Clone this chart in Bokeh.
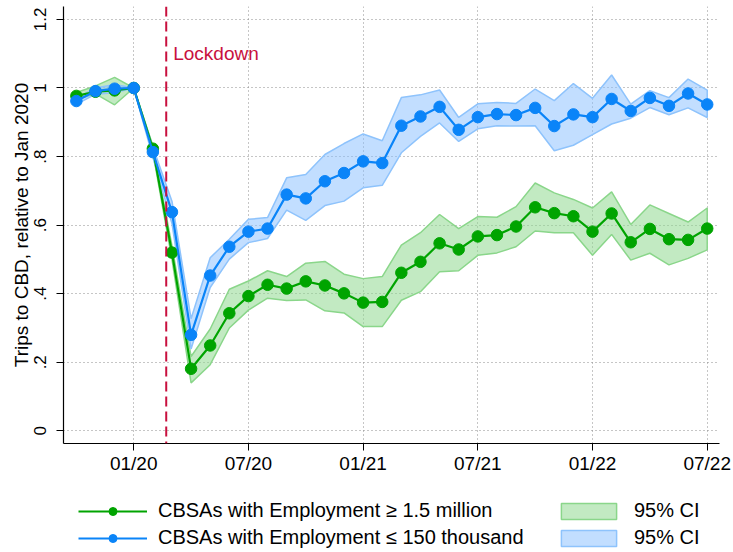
from bokeh.plotting import figure
from bokeh.layouts import column
from bokeh.models import Span, Label, Legend, LegendItem, FixedTicker, Range1d
from bokeh.embed import file_html
from bokeh.resources import INLINE

# ---------------- data ----------------
months = ["2019-10", "2019-11", "2019-12",
          "2020-01", "2020-02", "2020-03", "2020-04", "2020-05", "2020-06",
          "2020-07", "2020-08", "2020-09", "2020-10", "2020-11", "2020-12",
          "2021-01", "2021-02", "2021-03", "2021-04", "2021-05", "2021-06",
          "2021-07", "2021-08", "2021-09", "2021-10", "2021-11", "2021-12",
          "2022-01", "2022-02", "2022-03", "2022-04", "2022-05", "2022-06",
          "2022-07"]

large = [0.977, 0.989, 0.993, 1.000, 0.823, 0.520, 0.181, 0.249, 0.343,
         0.393, 0.426, 0.415, 0.436, 0.424, 0.401, 0.374, 0.376, 0.461,
         0.493, 0.547, 0.529, 0.567, 0.571, 0.596, 0.652, 0.635, 0.626,
         0.581, 0.634, 0.550, 0.589, 0.559, 0.557, 0.590]
large_hi = [0.987, 1.006, 1.031, 1.000, 0.832, 0.540, 0.217, 0.297, 0.413,
            0.437, 0.467, 0.450, 0.489, 0.494, 0.457, 0.444, 0.450, 0.542,
            0.578, 0.631, 0.590, 0.625, 0.623, 0.654, 0.723, 0.694, 0.675,
            0.650, 0.697, 0.602, 0.659, 0.634, 0.609, 0.650]
large_lo = [0.966, 0.983, 0.951, 1.000, 0.812, 0.500, 0.140, 0.193, 0.300,
            0.352, 0.387, 0.380, 0.382, 0.350, 0.344, 0.304, 0.304, 0.381,
            0.406, 0.464, 0.467, 0.512, 0.519, 0.537, 0.583, 0.578, 0.578,
            0.512, 0.573, 0.498, 0.518, 0.484, 0.503, 0.528]

small = [0.962, 0.991, 0.998, 1.000, 0.813, 0.638, 0.280, 0.453, 0.537,
         0.581, 0.590, 0.689, 0.678, 0.728, 0.752, 0.786, 0.781, 0.890,
         0.917, 0.945, 0.878, 0.915, 0.924, 0.921, 0.942, 0.889, 0.923,
         0.915, 0.968, 0.933, 0.971, 0.948, 0.984, 0.952]
small_hi = [0.970, 1.000, 1.010, 1.000, 0.828, 0.670, 0.327, 0.505, 0.559,
            0.617, 0.622, 0.738, 0.748, 0.806, 0.838, 0.866, 0.846, 0.972,
            0.980, 0.994, 0.914, 0.954, 0.958, 0.955, 0.997, 0.963, 1.013,
            0.970, 1.038, 0.953, 0.992, 0.972, 1.026, 0.994]
small_lo = [0.952, 0.982, 0.986, 1.000, 0.798, 0.605, 0.239, 0.418, 0.501,
            0.549, 0.561, 0.644, 0.614, 0.657, 0.670, 0.709, 0.716, 0.811,
            0.859, 0.898, 0.844, 0.881, 0.890, 0.889, 0.890, 0.817, 0.833,
            0.864, 0.895, 0.912, 0.943, 0.922, 0.942, 0.914]

tick_months = ["2020-01", "2020-07", "2021-01", "2021-07", "2022-01", "2022-07"]
tick_labels = ["01/20", "07/20", "01/21", "07/21", "01/22", "07/22"]
y_ticks = [0, 0.2, 0.4, 0.6, 0.8, 1.0, 1.2]
y_tick_labels = ["0", ".2", ".4", ".6", ".8", "1", "1.2"]

lockdown_month = "2020-03"
lockdown_shift = -0.3   # the marker sits a little before the March point

label_large = "CBSAs with Employment \u2265 1.5 million"
label_small = "CBSAs with Employment \u2264 150 thousand"
label_ci = "95% CI"

# ---------------- styles ----------------
FONT = "Liberation Sans"
GREEN = "#00A400"
BLUE = "#0A84F8"
GREEN_BAND = dict(fill_color="#8FD88F", fill_alpha=0.55, line_color="#8AD68A", line_width=1.5)
BLUE_BAND = dict(fill_color="#86BEFF", fill_alpha=0.5, line_color="#8EC3FC", line_width=1.5)

x = list(range(len(months)))
tick_x = [months.index(m) for m in tick_months]
lockdown_x = months.index(lockdown_month) + lockdown_shift
band_x = x + x[::-1]
band_large = large_hi + large_lo[::-1]
band_small = small_hi + small_lo[::-1]

# ---------------- main chart ----------------
p = figure(width=733, height=476, output_backend="svg", toolbar_location=None,
           x_range=Range1d(-0.674, 33.643), y_range=Range1d(-0.0369, 1.2377),
           min_border_left=63, min_border_right=14, min_border_top=6,
           min_border_bottom=31)
p.outline_line_color = None

p.patch(band_x, band_large, **GREEN_BAND)
p.patch(band_x, band_small, **BLUE_BAND)
p.line(x, large, line_color=GREEN, line_width=2.2)
p.scatter(x, large, size=11.5, fill_color=GREEN, line_color=GREEN)
p.line(x, small, line_color=BLUE, line_width=2.2)
p.scatter(x, small, size=11.5, fill_color=BLUE, line_color=BLUE)

p.add_layout(Span(location=lockdown_x, dimension="height",
                  line_color="#C8103E", line_width=2, line_dash="10 5"))
p.add_layout(Label(x=lockdown_x, y=1.1, x_offset=7, text="Lockdown",
                   text_color="#C8103E", text_font=FONT,
                   text_font_size="19px", text_baseline="middle"))

p.xaxis.ticker = FixedTicker(ticks=tick_x)
p.xaxis.major_label_overrides = {t: l for t, l in zip(tick_x, tick_labels)}
p.yaxis.ticker = FixedTicker(ticks=y_ticks)
p.yaxis.major_label_overrides = {t: l for t, l in zip(y_ticks, y_tick_labels)}
for ax in (p.xaxis[0], p.yaxis[0]):
    ax.axis_line_color = "black"
    ax.axis_line_width = 1.2
    ax.major_tick_line_color = "black"
    ax.major_tick_in = 0
    ax.major_tick_out = 7
    ax.minor_tick_line_color = None
    ax.major_label_text_font = FONT
    ax.major_label_text_color = "black"
    ax.axis_label_text_font = FONT
    ax.axis_label_text_font_style = "normal"
    ax.axis_label_text_color = "black"
p.xaxis.major_label_text_font_size = "19px"
p.xaxis.major_label_standoff = 2
p.yaxis.major_label_text_font_size = "17px"
p.yaxis.major_label_orientation = "vertical"
p.yaxis.major_label_standoff = 10
p.yaxis.axis_label = "Trips to CBD, relative to Jan 2020"
p.yaxis.axis_label_text_font_size = "19px"
p.yaxis.axis_label_standoff = 0

p.xgrid.ticker = FixedTicker(ticks=tick_x)
p.ygrid.ticker = FixedTicker(ticks=y_ticks)
for g in (p.xgrid[0], p.ygrid[0]):
    g.grid_line_color = "#8c8c8c"
    g.grid_line_dash = "1 3"
    g.grid_line_width = 1

# ---------------- legend strip ----------------
# same series, drawn on a y-range that leaves them out of view, so only the
# legend keys of this strip are visible
lg = figure(width=733, height=76, output_backend="svg", toolbar_location=None,
            x_range=Range1d(-0.674, 33.643), y_range=Range1d(10, 11),
            min_border_left=63, min_border_right=14, min_border_top=0,
            min_border_bottom=0)
lg.axis.visible = False
lg.grid.visible = False
lg.outline_line_color = None

k_ln_l = lg.line(x, large, line_color=GREEN, line_width=2)
k_sc_l = lg.scatter(x, large, size=11, fill_color=GREEN, line_color=GREEN)
k_ln_s = lg.line(x, small, line_color=BLUE, line_width=2)
k_sc_s = lg.scatter(x, small, size=11, fill_color=BLUE, line_color=BLUE)
k_bd_l = lg.patch(band_x, band_large, **GREEN_BAND)
k_bd_s = lg.patch(band_x, band_small, **BLUE_BAND)

legend = Legend(items=[LegendItem(label=label_large, renderers=[k_ln_l, k_sc_l]),
                       LegendItem(label=label_small, renderers=[k_ln_s, k_sc_s]),
                       LegendItem(label=label_ci, renderers=[k_bd_l]),
                       LegendItem(label=label_ci, renderers=[k_bd_s])],
                orientation="vertical", nrows=2, location=(15, 3),
                glyph_width=69, glyph_height=20, label_standoff=11,
                label_width=392, spacing=4, padding=0, margin=0,
                border_line_alpha=0, background_fill_alpha=0,
                label_text_font=FONT, label_text_font_size="20px",
                label_text_color="black")
lg.add_layout(legend)

open("out.html", "w").write(file_html(column(p, lg, spacing=0), INLINE))
